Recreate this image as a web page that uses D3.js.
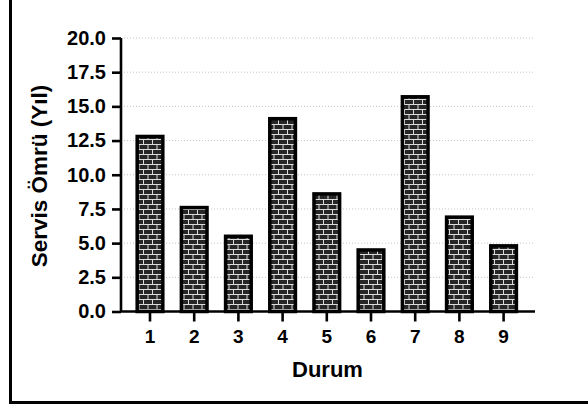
<!DOCTYPE html>
<html>
<head>
<meta charset="utf-8">
<script src="https://cdn.jsdelivr.net/npm/d3@7"></script>
<style>
  html, body { margin: 0; padding: 0; background: #fff; }
  svg { display: block; }
  text { font-family: "Liberation Sans", Arial, sans-serif; font-weight: bold; fill: #000; }
</style>
</head>
<body>
<svg id="chart" width="588" height="405"></svg>
<script>
const categories = ["1", "2", "3", "4", "5", "6", "7", "8", "9"];
const values = [12.8, 7.6, 5.5, 14.1, 8.6, 4.5, 15.7, 6.9, 4.8];
const yTicks = [0, 2.5, 5, 7.5, 10, 12.5, 15, 17.5, 20];
const yTitle = "Servis Ömrü (Yıl)";
const xTitle = "Durum";

const svg = d3.select("#chart");

// frame (left and bottom edges visible)
svg.append("rect")
  .attr("x", 10.5).attr("y", -10)
  .attr("width", 600).attr("height", 412.5)
  .attr("fill", "none").attr("stroke", "#000").attr("stroke-width", 3);

// brick pattern
const defs = svg.append("defs");
const pat = defs.append("pattern")
  .attr("id", "brick").attr("patternUnits", "userSpaceOnUse")
  .attr("width", 9).attr("height", 10);
pat.append("rect").attr("width", 9).attr("height", 10).attr("fill", "#dcdcdc");
pat.append("rect").attr("x", 0).attr("y", 0).attr("width", 8).attr("height", 4).attr("fill", "#262626");
pat.append("rect").attr("x", -4.5).attr("y", 5).attr("width", 8).attr("height", 4).attr("fill", "#262626");
pat.append("rect").attr("x", 4.5).attr("y", 5).attr("width", 8).attr("height", 4).attr("fill", "#262626");

const y = d3.scaleLinear().domain([0, 20]).range([311.5, 38]);
const x = d3.scaleBand().domain(categories).range([127.9, 525.7])
  .paddingInner(0.42).paddingOuter(0.21);

// gridlines
svg.append("g").selectAll("line")
  .data(yTicks.filter(t => t > 0))
  .join("line")
  .attr("x1", 124).attr("x2", 535)
  .attr("y1", d => y(d)).attr("y2", d => y(d))
  .attr("stroke", "#c4c4c4").attr("stroke-width", 1)
  .attr("stroke-dasharray", "1,2");

// bars
svg.append("g").selectAll("rect")
  .data(values)
  .join("rect")
  .attr("x", (d, i) => x(categories[i]))
  .attr("y", d => y(d))
  .attr("width", x.bandwidth())
  .attr("height", d => y(0) - y(d))
  .attr("fill", "url(#brick)")
  .attr("stroke", "#000").attr("stroke-width", 3.5);

// y axis
const yAxis = d3.axisLeft(y).tickValues(yTicks).tickSize(9).tickPadding(6)
  .tickFormat(d3.format(".1f"));
const gy = svg.append("g").attr("transform", "translate(121,0)").call(yAxis);
gy.select(".domain").attr("stroke", "#000").attr("stroke-width", 2.6).attr("d", "M0,311.5V38");
gy.selectAll(".tick line").attr("stroke", "#000").attr("stroke-width", 2.6);
gy.selectAll(".tick text").attr("font-size", 20).attr("font-family", "Liberation Sans, Arial, sans-serif").attr("font-weight", "bold");

// x axis
const xAxis = d3.axisBottom(x).tickSize(10).tickPadding(8);
const gx = svg.append("g").attr("transform", "translate(0,311.5)").call(xAxis);
gx.select(".domain").attr("stroke", "#000").attr("stroke-width", 2.6).attr("d", "M120,0H535");
gx.selectAll(".tick line").attr("stroke", "#000").attr("stroke-width", 2.6);
gx.selectAll(".tick text").attr("font-size", 19).attr("font-family", "Liberation Sans, Arial, sans-serif").attr("font-weight", "bold");

// titles
svg.append("text")
  .attr("x", 327.5).attr("y", 377)
  .attr("text-anchor", "middle").attr("font-size", 22)
  .text(xTitle);

svg.append("text")
  .attr("transform", "translate(47,176) rotate(-90)")
  .attr("text-anchor", "middle").attr("font-size", 22.5)
  .text(yTitle);
</script>
</body>
</html>
